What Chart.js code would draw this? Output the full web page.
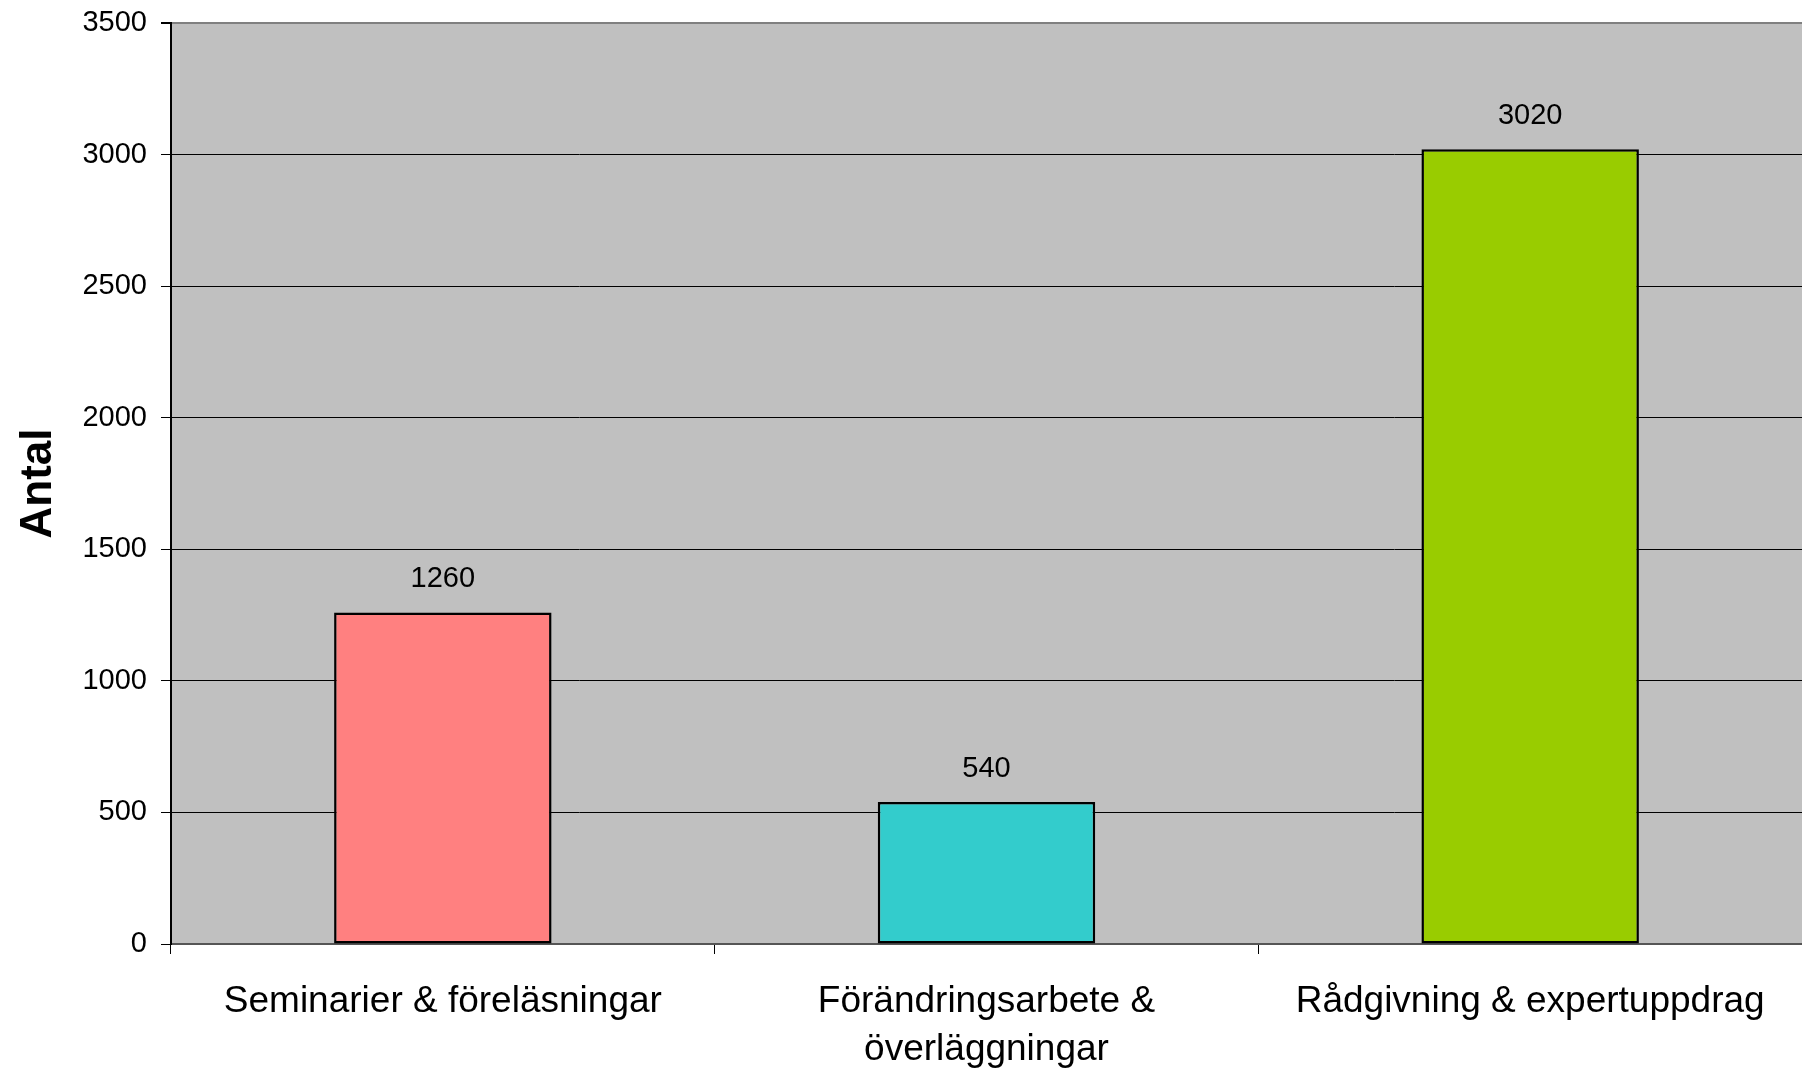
<!DOCTYPE html>
<html>
<head>
<meta charset="utf-8">
<script src="https://cdn.jsdelivr.net/npm/chart.js@4/dist/chart.umd.min.js"></script>
<style>
  html, body { margin: 0; padding: 0; background: #fff; }
  #wrap { width: 1802px; height: 1068px; }
</style>
</head>
<body>
<div id="wrap"><canvas id="chart" width="1802" height="1068"></canvas></div>
<script>
// data
const categories = [
  'Seminarier & föreläsningar',
  ['Förändringsarbete &', 'överläggningar'],
  'Rådgivning & expertuppdrag'
];
const values = [1260, 540, 3020];
const barColors = ['#FF8080', '#33CCCC', '#99CC00'];
const yTicks = [0, 500, 1000, 1500, 2000, 2500, 3000, 3500];

const FONT = '"Liberation Sans", Arial, sans-serif';

// grey plot background
const plotBg = {
  id: 'plotBg',
  beforeDraw(chart) {
    const { ctx, chartArea: a } = chart;
    ctx.save();
    ctx.fillStyle = '#C0C0C0';
    ctx.fillRect(a.left, a.top, a.right - a.left, a.bottom - a.top);
    ctx.restore();
  }
};

// value labels above the bars
const valueLabels = {
  id: 'valueLabels',
  afterDatasetsDraw(chart) {
    const { ctx } = chart;
    const meta = chart.getDatasetMeta(0);
    ctx.save();
    ctx.font = '29px ' + FONT;
    ctx.fillStyle = '#000';
    ctx.textAlign = 'center';
    ctx.textBaseline = 'middle';
    meta.data.forEach((bar, i) => {
      ctx.fillText(String(values[i]), bar.x, bar.y - 33);
    });
    ctx.restore();
  }
};

new Chart(document.getElementById('chart'), {
  type: 'bar',
  data: {
    labels: categories,
    datasets: [{
      data: values,
      backgroundColor: barColors,
      borderColor: '#000',
      borderWidth: 2.5,
      borderSkipped: false,
      barPercentage: 0.4,
      categoryPercentage: 1.0
    }]
  },
  options: {
    responsive: false,
    animation: false,
    layout: { padding: { top: 23, right: 0, left: 0, bottom: 0 } },
    plugins: {
      legend: { display: false },
      tooltip: { enabled: false }
    },
    scales: {
      x: {
        grid: {
          offset: true,
          drawOnChartArea: false,
          drawTicks: true,
          tickLength: 10,
          tickColor: '#000',
          lineWidth: 1
        },
        border: { display: true, color: '#555', width: 2 },
        ticks: {
          color: '#000',
          font: { family: FONT, size: 37, lineHeight: 1.3 },
          padding: 24,
          maxRotation: 0,
          autoSkip: false
        },
        afterFit(scale) {
          scale.height = 124;
          scale.paddingLeft = 0;
          scale.paddingRight = 0;
        }
      },
      y: {
        min: 0,
        max: 3500,
        afterBuildTicks(scale) { scale.ticks = yTicks.map(v => ({ value: v })); },
        grid: {
          color: ctx => (ctx.tick && ctx.tick.value === 3500 ? '#808080' : '#000'),
          lineWidth: ctx => (ctx.tick && ctx.tick.value === 3500 ? 2 : 1),
          tickLength: 10,
          tickColor: '#000'
        },
        border: { display: true, color: '#000', width: 2 },
        ticks: {
          color: '#000',
          font: { family: FONT, size: 29 },
          padding: 14,
          callback: v => String(v)
        },
        title: {
          display: true,
          text: 'Antal',
          color: '#000',
          font: { family: FONT, size: 44, weight: 'bold' },
          padding: { top: 12, bottom: 0 }
        },
        afterFit(scale) {
          scale.width = 171;
          scale.paddingTop = 0;
          scale.paddingBottom = 0;
        }
      }
    }
  },
  plugins: [plotBg, valueLabels]
});
</script>
</body>
</html>
